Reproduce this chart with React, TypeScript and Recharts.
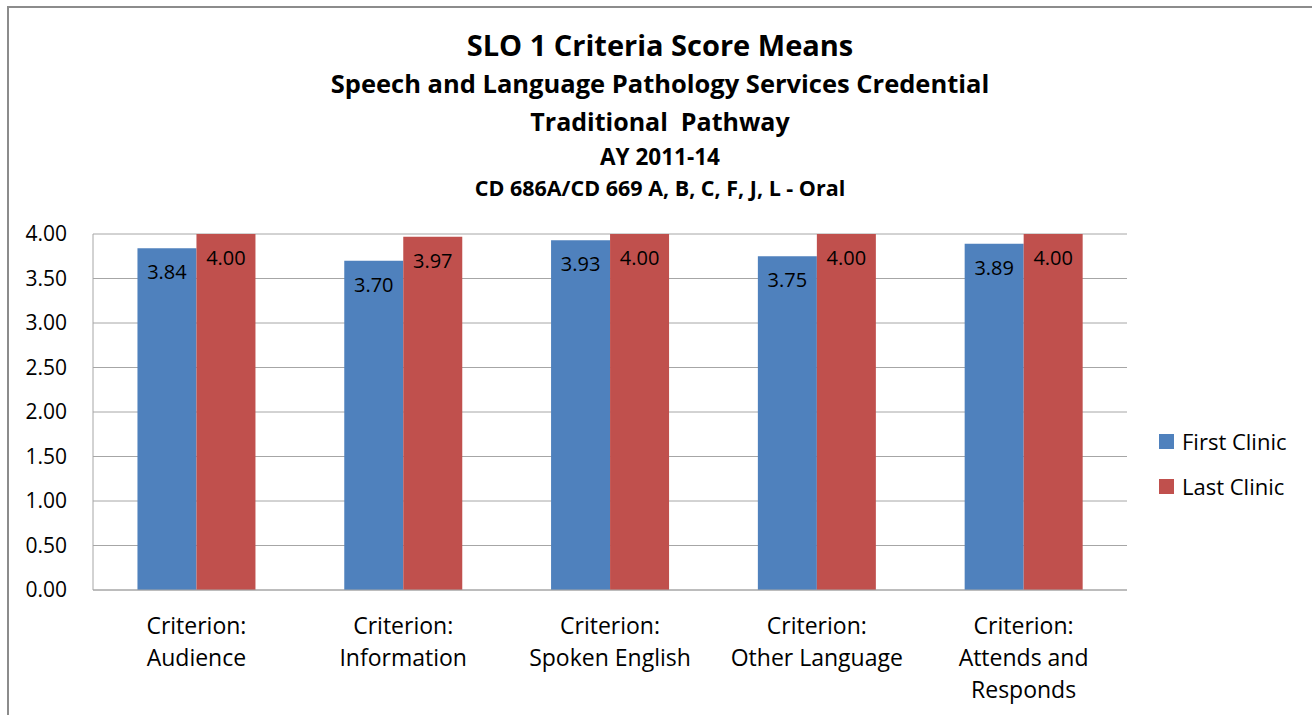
import React from "react";
import { BarChart, Bar, XAxis, YAxis, CartesianGrid, LabelList } from "recharts";

const categories = [
  "Criterion:\nAudience",
  "Criterion:\nInformation",
  "Criterion:\nSpoken English",
  "Criterion:\nOther Language",
  "Criterion:\nAttends and\nResponds",
];
const firstClinic = [3.84, 3.7, 3.93, 3.75, 3.89];
const lastClinic = [4.0, 3.97, 4.0, 4.0, 4.0];
const yTicks = [0, 0.5, 1, 1.5, 2, 2.5, 3, 3.5, 4];
const titleLines = [
  "SLO 1 Criteria Score Means",
  "Speech and Language Pathology Services Credential",
  "Traditional  Pathway",
  "AY 2011-14",
  "CD 686A/CD 669 A, B, C, F, J, L - Oral",
];
const seriesNames = ["First Clinic", "Last Clinic"];

const BLUE = "#4F81BD";
const RED = "#C0504D";
const FONT = "'Open Sans', Lato, sans-serif";

const data = categories.map((c, i) => ({
  name: c,
  first: firstClinic[i],
  last: lastClinic[i],
}));

const XTick = (props: any) => {
  const { x, y, payload } = props;
  const lines = String(payload.value).split("\n");
  return (
    <text x={x} y={y} textAnchor="middle" fontFamily={FONT} fontSize={23} fill="#000">
      {lines.map((l, i) => (
        <tspan key={i} x={x} dy={i === 0 ? 36 : 32}>
          {l}
        </tspan>
      ))}
    </text>
  );
};

const titleStyles = [
  { center: 44, size: 29 },
  { center: 84, size: 25.5 },
  { center: 121, size: 25 },
  { center: 157, size: 22.5 },
  { center: 188, size: 21.5 },
];

export default function App() {
  return (
    <div
      style={{
        position: "absolute",
        left: 0,
        top: 0,
        width: 1312,
        height: 715,
        overflow: "hidden",
        background: "#fff",
        fontFamily: FONT,
      }}
    >
      <div
        style={{
          position: "absolute",
          left: 7,
          top: 6,
          width: 1340,
          height: 740,
          border: "2px solid #8c8c8c",
          boxSizing: "border-box",
        }}
      />
      {titleLines.map((t, i) => (
        <div
          key={i}
          style={{
            position: "absolute",
            left: 0,
            width: 1320,
            top: titleStyles[i].center - (titleStyles[i].size + 6) / 2,
            textAlign: "center",
            fontWeight: 700,
            fontSize: titleStyles[i].size,
            lineHeight: `${titleStyles[i].size + 6}px`,
            color: "#000",
            whiteSpace: "pre",
          }}
        >
          {t}
        </div>
      ))}
      <div style={{ position: "absolute", left: 0, top: 0 }}>
        <BarChart
          width={1312}
          height={715}
          data={data}
          margin={{ top: 234, right: 185, left: 0, bottom: 0 }}
          barCategoryGap="21.5%"
          barGap={0}
        >
          <CartesianGrid vertical={false} stroke="#a6a6a6" strokeWidth={1} />
          <XAxis
            dataKey="name"
            height={125}
            tickLine={false}
            axisLine={{ stroke: "#a6a6a6" }}
            tick={<XTick />}
            interval={0}
          />
          <YAxis
            width={93}
            domain={[0, 4]}
            ticks={yTicks}
            tickFormatter={(v: number) => v.toFixed(2)}
            tickLine={false}
            tickSize={0}
            tickMargin={26}
            axisLine={{ stroke: "#a6a6a6" }}
            tick={{ fontSize: 21, fill: "#000", fontFamily: FONT }}
            interval={0}
          />
          <Bar dataKey="first" name={seriesNames[0]} fill={BLUE} isAnimationActive={false}>
            <LabelList
              dataKey="first"
              position="insideTop"
              offset={17}
              formatter={(v: any) => Number(v).toFixed(2)}
              style={{ fontSize: 20, fill: "#000", fontFamily: FONT }}
            />
          </Bar>
          <Bar dataKey="last" name={seriesNames[1]} fill={RED} isAnimationActive={false}>
            <LabelList
              dataKey="last"
              position="insideTop"
              offset={17}
              formatter={(v: any) => Number(v).toFixed(2)}
              style={{ fontSize: 20, fill: "#000", fontFamily: FONT }}
            />
          </Bar>
        </BarChart>
      </div>
      {seriesNames.map((n, i) => (
        <div
          key={n}
          style={{
            position: "absolute",
            left: 1159,
            top: (i === 0 ? 441 : 486) - 15,
            height: 30,
            display: "flex",
            alignItems: "center",
            fontSize: 22,
            color: "#000",
            whiteSpace: "nowrap",
          }}
        >
          <span
            style={{
              display: "inline-block",
              width: 15,
              height: 15,
              background: i === 0 ? BLUE : RED,
              marginRight: 8,
            }}
          />
          {n}
        </div>
      ))}
    </div>
  );
}
